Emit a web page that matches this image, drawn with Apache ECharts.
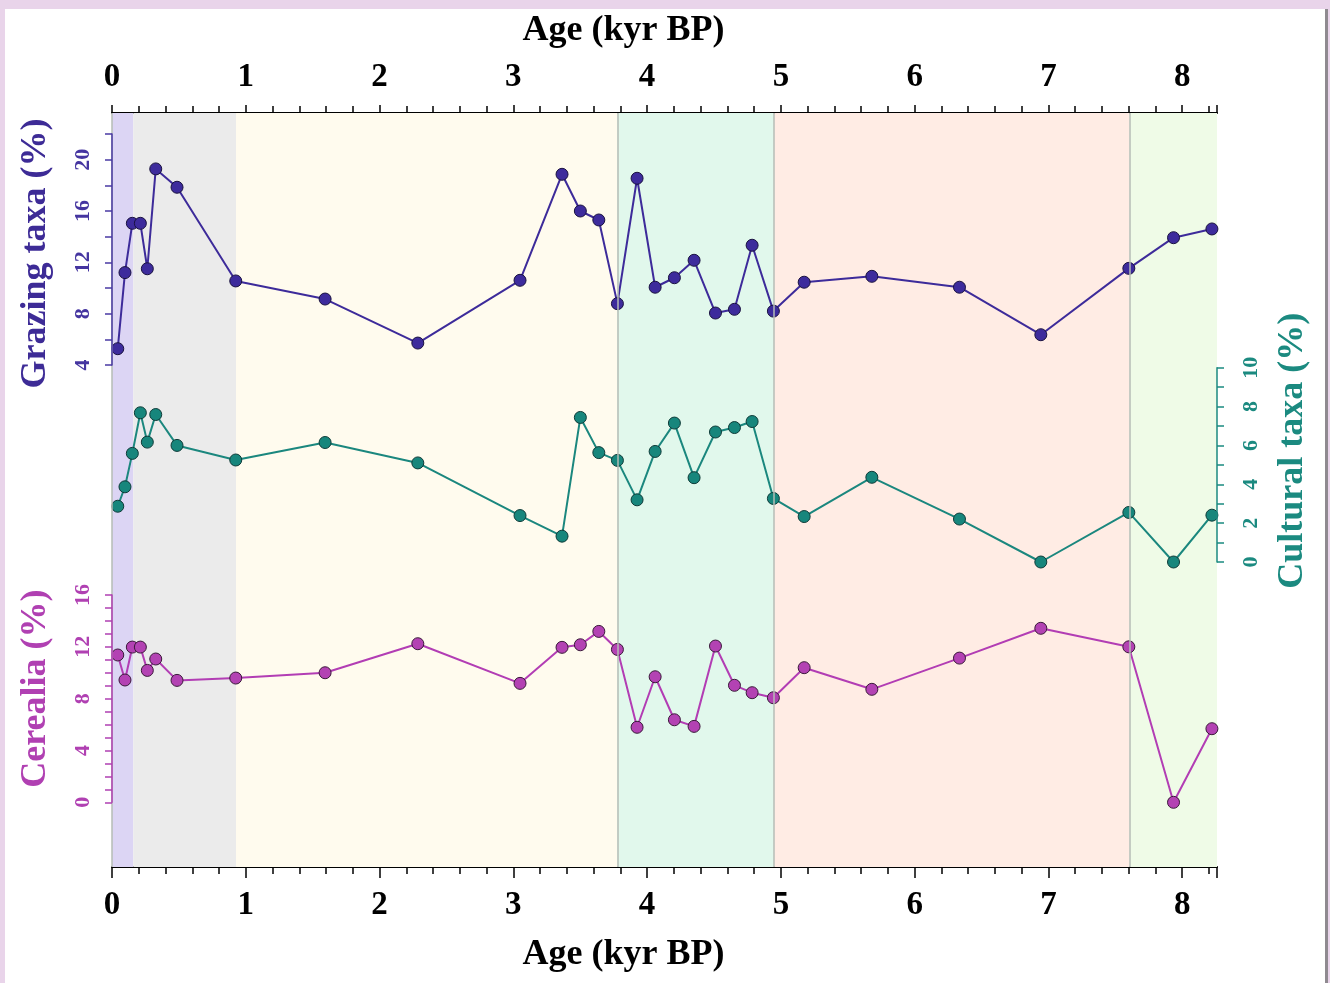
<!DOCTYPE html>
<html>
<head>
<meta charset="utf-8">
<script src="https://cdn.jsdelivr.net/npm/echarts@6/dist/echarts.min.js"></script>
<style>
  html, body { margin:0; padding:0; width:1330px; height:983px; background:#e9d4ea; overflow:hidden; }
  #paper { position:absolute; left:5px; top:9px; width:1320px; height:974px; background:#ffffff; border-right:3px solid #8f8a90; }
  #chart { position:absolute; left:0; top:0; width:1330px; height:983px; }
</style>
</head>
<body>
<div id="paper"></div>
<div id="chart"></div>
<script>
// Sample ages (kyr BP)
const ages = [0.043, 0.097, 0.152, 0.212, 0.264, 0.327, 0.486, 0.925, 1.593, 2.286,
              3.050, 3.364, 3.501, 3.639, 3.778, 3.925, 4.060, 4.204, 4.351, 4.511,
              4.653, 4.785, 4.944, 5.174, 5.680, 6.335, 6.943, 7.601, 7.935, 8.222];
// Grazing taxa (%)
const grazing = [5.27, 11.2, 15.04, 15.04, 11.5, 19.28, 17.85, 10.55, 9.14, 5.71,
                 10.6, 18.86, 16.0, 15.3, 8.78, 18.55, 10.06, 10.8, 12.16, 8.05,
                 8.34, 13.33, 8.2, 10.45, 10.91, 10.06, 6.36, 11.53, 13.92, 14.6];
// Cultural taxa (%)
const cultural = [2.87, 3.87, 5.59, 7.68, 6.17, 7.59, 6.0, 5.25, 6.15, 5.1,
                  2.39, 1.33, 7.44, 5.63, 5.23, 3.2, 5.69, 7.15, 4.34, 6.69,
                  6.92, 7.23, 3.27, 2.34, 4.36, 2.21, 0, 2.55, 0, 2.41];
// Cerealia (%)
const cerealia = [11.37, 9.44, 11.98, 11.98, 10.18, 11.06, 9.41, 9.59, 10.0, 12.24,
                  9.18, 11.96, 12.16, 13.19, 11.8, 5.79, 9.69, 6.37, 5.86, 12.06,
                  9.03, 8.46, 8.07, 10.39, 8.72, 11.13, 13.43, 12.0, 0, 5.68];
// Zone boundaries (kyr BP)
const zoneBounds = [0, 0.159, 0.927, 3.776, 4.95, 7.606, 8.26];
// Zone boundaries drawn as thin lines
const zoneLines = [0, 3.776, 4.95, 7.606];
const ageMin = 0, ageMax = 8.26;

const zoneColors = ['#dcd5f4', '#ebebeb', '#fffbee', '#e1f8ec', '#ffece4', '#effbe7'];
const serif = '"Liberation Serif", "DejaVu Serif", serif';

const chart = echarts.init(document.getElementById('chart'), null, {renderer: 'canvas'});

const L = 112, R = 1330 - 1217;
const hiddenX = (g) => ({ type:'value', gridIndex:g, min:ageMin, max:ageMax, show:false });

const option = {
  animation: false,
  backgroundColor: 'transparent',
  grid: [
    { left:L, right:R, top:113, bottom:983-867 },           // main frame
    { left:L, right:R, top:134, height:231 },                // grazing
    { left:L, right:R, top:367.7, height:194.3 },            // cultural
    { left:L, right:R, top:595, height:207.3 }               // cerealia
  ],
  xAxis: [
    { type:'value', gridIndex:0, position:'bottom', min:ageMin, max:ageMax, interval:1,
      axisLine:{ show:true, onZero:false, lineStyle:{color:'#000', width:2} },
      axisTick:{ show:true, length:11, lineStyle:{color:'#000', width:1.5} },
      minorTick:{ show:true, splitNumber:5, length:7, lineStyle:{color:'#000', width:1.5} },
      splitLine:{show:false},
      axisLabel:{ margin:22, fontFamily:serif, fontWeight:'bold', fontSize:33, color:'#000', showMaxLabel:false,
                  formatter:v => Number.isInteger(v) ? String(v) : '' },
      name:'Age (kyr BP)', nameLocation:'middle', nameGap:70,
      nameTextStyle:{ fontFamily:serif, fontWeight:'bold', fontSize:36, color:'#000', padding:[0,82,0,0] } },
    { type:'value', gridIndex:0, position:'top', min:ageMin, max:ageMax, interval:1,
      axisLine:{ show:true, onZero:false, lineStyle:{color:'#000', width:2} },
      axisTick:{ show:true, length:8, lineStyle:{color:'#000', width:1.5} },
      minorTick:{ show:true, splitNumber:5, length:7, lineStyle:{color:'#000', width:1.5} },
      splitLine:{show:false},
      axisLabel:{ margin:19, fontFamily:serif, fontWeight:'bold', fontSize:33, color:'#000', showMaxLabel:false,
                  formatter:v => Number.isInteger(v) ? String(v) : '' },
      name:'Age (kyr BP)', nameLocation:'middle', nameGap:64,
      nameTextStyle:{ fontFamily:serif, fontWeight:'bold', fontSize:36, color:'#000', padding:[0,82,0,0] } },
    hiddenX(1), hiddenX(2), hiddenX(3)
  ],
  yAxis: [
    { type:'value', gridIndex:0, min:0, max:1, show:false },
    { type:'value', gridIndex:1, position:'left', min:4, max:22, interval:2, z:5,
      axisLine:{ show:true, onZero:false, lineStyle:{color:'#4a3aa4', width:1.5} },
      axisTick:{ show:true, length:7, lineStyle:{color:'#4a3aa4', width:1.5} },
      splitLine:{show:false},
      axisLabel:{ rotate:90, margin:18, fontFamily:serif, fontWeight:'bold', fontSize:22, color:'#4535a0',
                  formatter:v => (v % 4 === 0 && v <= 20) ? String(v) : '' },
      name:'Grazing taxa (%)', nameLocation:'middle', nameRotate:90, nameGap:58,
      nameTextStyle:{ fontFamily:serif, fontWeight:'bold', fontSize:36, color:'#3d2b96', padding:[0,8,0,0] } },
    { type:'value', gridIndex:2, position:'right', min:0, max:10, interval:1, z:5,
      axisLine:{ show:true, onZero:false, lineStyle:{color:'#1b8a80', width:1.5} },
      axisTick:{ show:true, length:7, lineStyle:{color:'#1b8a80', width:1.5} },
      splitLine:{show:false},
      axisLabel:{ rotate:90, margin:23, fontFamily:serif, fontWeight:'bold', fontSize:22, color:'#1b8a80',
                  formatter:v => (v % 2 === 0) ? String(v) : '' },
      name:'Cultural taxa (%)', nameLocation:'middle', nameRotate:90, nameGap:58,
      nameTextStyle:{ fontFamily:serif, fontWeight:'bold', fontSize:36, color:'#1b8a80', padding:[0,0,0,28] } },
    { type:'value', gridIndex:3, position:'left', min:0, max:16, interval:1, z:5,
      axisLine:{ show:true, onZero:false, lineStyle:{color:'#b040b2', width:1.5} },
      axisTick:{ show:true, length:7, lineStyle:{color:'#b040b2', width:1.5} },
      splitLine:{show:false},
      axisLabel:{ rotate:90, margin:18, fontFamily:serif, fontWeight:'bold', fontSize:22, color:'#b040b2',
                  formatter:v => (v % 4 === 0) ? String(v) : '' },
      name:'Cerealia (%)', nameLocation:'middle', nameRotate:90, nameGap:58,
      nameTextStyle:{ fontFamily:serif, fontWeight:'bold', fontSize:36, color:'#b040b2', padding:[0,0,0,20] } }
  ],
  series: [
    { type:'line', xAxisIndex:0, yAxisIndex:0, data:[], z:1, silent:true,
      markArea:{ silent:true,
        data: zoneBounds.slice(0, -1).map((b, i) => [
          { xAxis:b, itemStyle:{ color:zoneColors[i] } },
          { xAxis:zoneBounds[i+1] }
        ]) },
      markLine:{ silent:true, symbol:['none','none'], label:{show:false},
        lineStyle:{ color:'#b6bdb6', width:1.5, type:'solid' },
        data: zoneLines.map(v => ({ xAxis:v })) } },
    { name:'Grazing taxa', type:'line', xAxisIndex:2, yAxisIndex:1, z:3,
      data: ages.map((a, i) => [a, grazing[i]]),
      lineStyle:{ color:'#3d2b9a', width:2 },
      symbol:'circle', symbolSize:12,
      itemStyle:{ color:'#3d2b9c', borderColor:'#1a1240', borderWidth:1 } },
    { name:'Cultural taxa', type:'line', xAxisIndex:3, yAxisIndex:2, z:3,
      data: ages.map((a, i) => [a, cultural[i]]),
      lineStyle:{ color:'#1b877e', width:2 },
      symbol:'circle', symbolSize:12,
      itemStyle:{ color:'#17867c', borderColor:'#0e3b38', borderWidth:1 } },
    { name:'Cerealia', type:'line', xAxisIndex:4, yAxisIndex:3, z:3,
      data: ages.map((a, i) => [a, cerealia[i]]),
      lineStyle:{ color:'#b23db4', width:2 },
      symbol:'circle', symbolSize:12,
      itemStyle:{ color:'#b342b3', borderColor:'#3a1a3a', borderWidth:1 } }
  ]
};
chart.setOption(option);
</script>
</body>
</html>
